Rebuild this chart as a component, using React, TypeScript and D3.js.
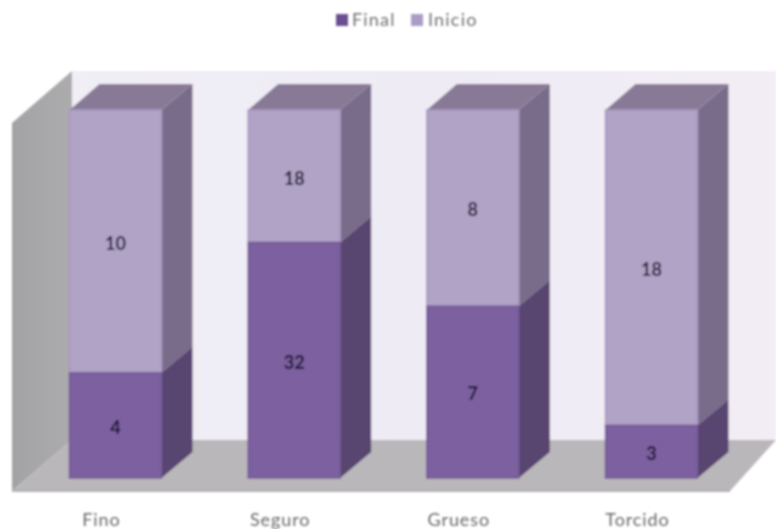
import React from "react";
import * as d3 from "d3";

const categories = ["Fino", "Seguro", "Grueso", "Torcido"];
const finalValues = [4, 32, 7, 3];
const inicioValues = [10, 18, 8, 18];
const legendLabels = ["Final", "Inicio"];

const W = 776, H = 529;
const barW = 92;
const depthX = 31, depthY = 26;
const x = d3.scalePoint<string>().domain(categories).range([115.5, 651.5]);
const y = d3.scaleLinear().domain([0, 1]).range([478, 110]);

const pts = (p: number[][]) => p.map(a => a.join(",")).join(" ");
const font = "Lato, 'Open Sans', sans-serif";

function Segment({ cx, y0, y1, front, side, top, frontEdge, showTop }: any) {
  const l = cx - barW / 2, r = cx + barW / 2;
  return (
    <g>
      <polygon points={pts([[r, y0], [r + depthX, y0 - depthY], [r + depthX, y1 - depthY], [r, y1]])} fill={side} />
      {showTop && <polygon points={pts([[l, y1], [l + depthX - 1, y1 - depthY], [r + depthX, y1 - depthY], [r, y1]])} fill={top} />}
      <rect x={l} y={y1} width={barW} height={y0 - y1} fill={front} stroke={frontEdge} strokeWidth={1.5} />
    </g>
  );
}

export default function App() {
  return (
    <svg width={W} height={H} style={{ position: "fixed", left: 0, top: 0, background: "#fff" }}>
      <defs>
        <filter id="soft" x="-2%" y="-2%" width="104%" height="104%">
          <feGaussianBlur stdDeviation="1" />
        </filter>
        <linearGradient id="wall" x1="0" x2="1" y1="0" y2="0">
          <stop offset="0" stopColor="#f1eef5" />
          <stop offset="0.5" stopColor="#eeebf5" />
          <stop offset="1" stopColor="#f3edf5" />
        </linearGradient>
        <linearGradient id="leftWall" x1="0" x2="1" y1="0" y2="0">
          <stop offset="0" stopColor="#a3a2a5" />
          <stop offset="1" stopColor="#acabad" />
        </linearGradient>
      </defs>
      <g filter="url(#soft)">
        <rect x={72} y={71} width={W - 72} height={369} fill="url(#wall)" />
        <polygon points={pts([[12, 123], [72, 71], [72, 440], [12, 491]])} fill="url(#leftWall)" />
        <polygon points={pts([[12, 491], [72, 440], [776, 440], [776, 440], [730, 491]])} fill="#b9b7ba" />
        <line x1={12} x2={730} y1={491} y2={491} stroke="#a5a3a6" strokeWidth={1.5} />
        {categories.map((c, i) => {
          const total = finalValues[i] + inicioValues[i];
          const share = finalValues[i] / total;
          const cx = x(c)!;
          return (
            <g key={c}>
              <Segment cx={cx} y0={y(share)} y1={y(1)} front="#b0a3c6" side="#786c8a" top="#887a96" frontEdge="#a898c0" showTop />
              <Segment cx={cx} y0={y(0)} y1={y(share)} front="#7c619f" side="#584470" frontEdge="#745a96" showTop={false} />
              <text x={cx} y={y(share + (1 - share) / 2) + 2} dy="0.35em" textAnchor="middle" fontFamily={font} fontWeight={700} fontSize={18} fill="#1f1733">{inicioValues[i]}</text>
              <text x={cx} y={y(share / 2) + 2} dy="0.35em" textAnchor="middle" fontFamily={font} fontWeight={700} fontSize={18} fill="#150c2c">{finalValues[i]}</text>
              <text x={cx - 14} y={526} textAnchor="middle" fontFamily={font} fontSize={18} letterSpacing={0.9} fill="#68686a">{c}</text>
            </g>
          );
        })}
        <rect x={336} y={14} width={12} height={12} fill="#6a5090" />
        <text x={352} y={26} fontFamily={font} fontSize={18} fill="#6f6f72" letterSpacing={1.2}>{legendLabels[0]}</text>
        <rect x={411} y={14} width={12} height={12} fill="#ab9cc6" />
        <text x={428} y={26} fontFamily={font} fontSize={18} fill="#6f6f72" letterSpacing={1.2}>{legendLabels[1]}</text>
      </g>
    </svg>
  );
}
